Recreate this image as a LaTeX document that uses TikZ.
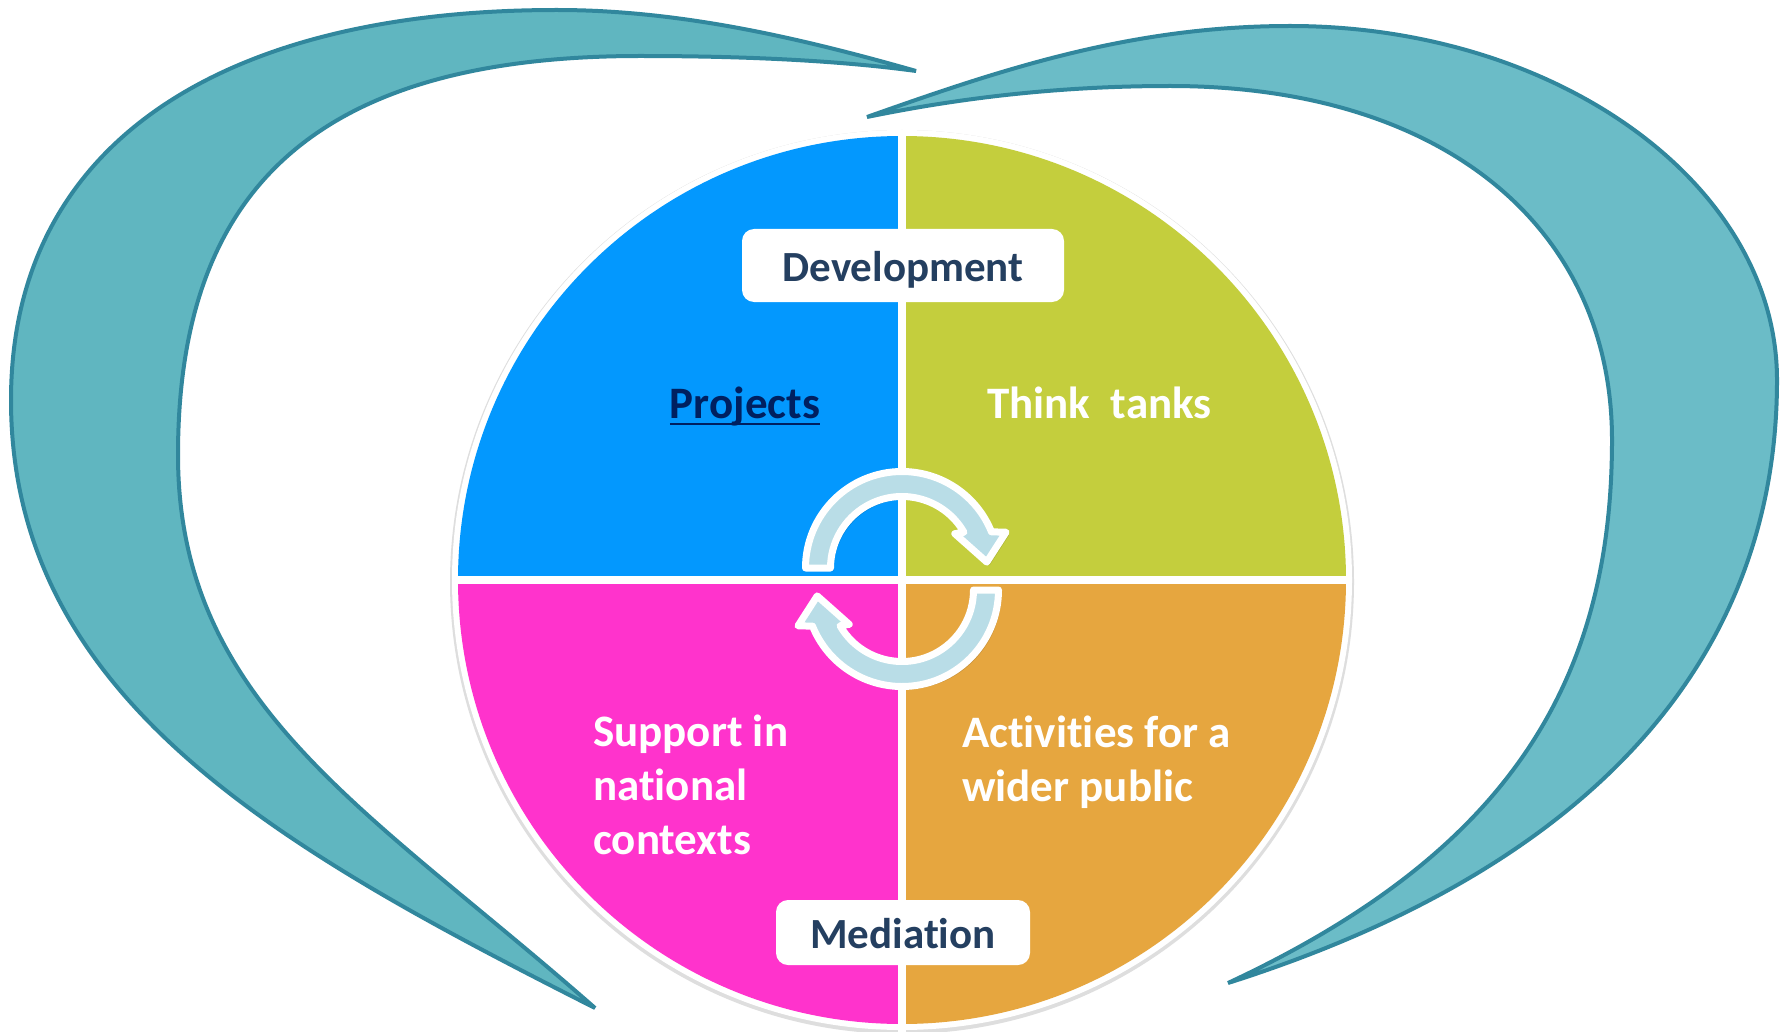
\documentclass[tikz,border=0pt]{standalone}
\usepackage{fontspec}
\setmainfont[Ligatures={NoCommon}]{Carlito}
\definecolor{qblue}{RGB}{3,152,254}
\definecolor{qgreen}{RGB}{196,206,61}
\definecolor{qpink}{RGB}{255,51,204}
\definecolor{qorange}{RGB}{230,166,63}
\definecolor{crescL}{RGB}{96,182,192}
\definecolor{crescR}{RGB}{107,188,199}
\definecolor{crescEdge}{RGB}{49,135,157}
\definecolor{arrowfill}{RGB}{185,221,231}
\definecolor{labeltext}{RGB}{36,63,96}
\definecolor{projtext}{RGB}{0,32,96}
\tikzset{
  crescent/.style={draw=crescEdge, line width=4pt, line join=bevel},
  labelbox/.style={fill=white, rounded corners=12pt, inner sep=0pt, text=labeltext,
    text height=31pt, text depth=0pt, font=\fontsize{43}{50}\selectfont\bfseries},
  quadtext/.style={text=white, font=\fontsize{45}{54}\selectfont\bfseries, inner sep=0pt, align=left},
  cyclearrow/.style={fill=arrowfill, draw=white, line width=7pt, line join=round},
  arrowshadow/.style={fill=black, opacity=0.12}
}
\begin{document}
\begin{tikzpicture}[x=1pt, y=-1pt]
\useasboundingbox (0,0) rectangle (1790,1032);
\fill[white] (0,0) rectangle (1790,1032);

% left crescent
\filldraw[crescent, fill=crescL]
  (916,71) .. controls (800,38) and (680,10) .. (557,10)
  .. controls (218,10) and (11,146) .. (11,400)
  .. controls (11,700) and (283,850) .. (595,1008)
  .. controls (370,810) and (178,705) .. (178,455)
  .. controls (178,195) and (310,56) .. (640,56)
  .. controls (760,56) and (850,62) .. (916,71) -- cycle;

% right crescent
\filldraw[crescent, fill=crescR]
  (867,117) .. controls (1000,70) and (1130,26) .. (1290,26)
  .. controls (1558,26) and (1777,185) .. (1777,380)
  .. controls (1777,660) and (1590,868) .. (1228,983)
  .. controls (1500,856) and (1612,690) .. (1612,440)
  .. controls (1612,228) and (1444,86) .. (1170,86)
  .. controls (1050,86) and (950,100) .. (867,117) -- cycle;

% circle with white ring and soft shadow
\fill[black!13] (902,582) circle[radius=452];
\fill[white] (902,580) circle[radius=450];
\fill[qblue] (902,580) -- ++(180:444) arc[start angle=180, end angle=270, radius=444] -- cycle;
\fill[qgreen] (902,580) -- ++(270:444) arc[start angle=270, end angle=360, radius=444] -- cycle;
\fill[qorange] (902,580) -- ++(0:444) arc[start angle=0, end angle=90, radius=444] -- cycle;
\fill[qpink] (902,580) -- ++(90:444) arc[start angle=90, end angle=180, radius=444] -- cycle;
\draw[white, line width=8pt] (902,132) -- (902,1032);
\draw[white, line width=8pt] (452,580) -- (1352,580);

% cycle arrows
\begin{scope}[shift={(905,571)}]
  \fill[arrowshadow] (180:96.5) arc[start angle=180, end angle=338, radius=96.5]
    -- (341:110) -- (356:85) -- (327:63) -- (330:71.5)
    arc[start angle=330, end angle=180, radius=71.5] -- cycle;
\end{scope}
\begin{scope}[shift={(902,568)}]
  \filldraw[cyclearrow] (180:96.5) arc[start angle=180, end angle=338, radius=96.5]
    -- (341:110) -- (356:85) -- (327:63) -- (330:71.5)
    arc[start angle=330, end angle=180, radius=71.5] -- cycle;
\end{scope}
\begin{scope}[shift={(905,593)}, rotate=180]
  \fill[arrowshadow] (180:96.5) arc[start angle=180, end angle=338, radius=96.5]
    -- (341:110) -- (356:85) -- (327:63) -- (330:71.5)
    arc[start angle=330, end angle=180, radius=71.5] -- cycle;
\end{scope}
\begin{scope}[shift={(902,590)}, rotate=180]
  \filldraw[cyclearrow] (180:96.5) arc[start angle=180, end angle=338, radius=96.5]
    -- (341:110) -- (356:85) -- (327:63) -- (330:71.5)
    arc[start angle=330, end angle=180, radius=71.5] -- cycle;
\end{scope}

% labels
\node[labelbox, minimum width=322pt, minimum height=73pt] (dev) at (903,265.5) {Development};
\node[labelbox, minimum width=254pt, minimum height=65pt] (med) at (903,932.5) {Mediation};

\node[quadtext, text=projtext, anchor=base] (proj) at (745,418) {Projects};
\draw[projtext, line width=2.8pt] ([yshift=-6pt]proj.base west) -- ([yshift=-6pt]proj.base east);
\node[quadtext, anchor=base west] (think) at (987,418) {Think~ tanks};
\node[quadtext, anchor=base west] (support) at (593,854) {Support in\\national\\contexts};
\node[quadtext, anchor=base west] (activ) at (962,801) {Activities for a\\wider public};
\end{tikzpicture}
\end{document}
